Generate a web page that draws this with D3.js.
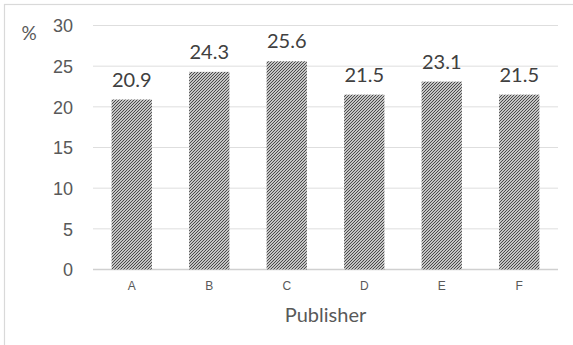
<!DOCTYPE html>
<html>
<head>
<meta charset="utf-8">
<script src="https://cdn.jsdelivr.net/npm/d3@7"></script>
<style>
  html, body { margin: 0; padding: 0; background: #fff; }
  svg { display: block; font-family: Lato, "Open Sans", sans-serif; }
</style>
</head>
<body>
<svg id="chart" width="573" height="345"></svg>
<script>
// Share of each publisher, in percent
const categories = ["A", "B", "C", "D", "E", "F"];
const values = [20.9, 24.3, 25.6, 21.5, 23.1, 21.5];
const yTicks = [0, 5, 10, 15, 20, 25, 30];
const xTitle = "Publisher";
const yUnit = "%";

(function draw() {
  const svg = d3.select("#chart");
  const W = 573, H = 345;
  const plotLeft = 93, plotRight = 558, plotTop = 25.5, plotBottom = 269.5;

  // Frame around the chart area
  svg.append("rect")
    .attr("x", 4.5).attr("y", 4.5)
    .attr("width", W + 10).attr("height", H + 10)
    .attr("fill", "#fff").attr("stroke", "#d9d9d9").attr("stroke-width", 1.2);

  // Diagonal hatch fill for the bars
  const defs = svg.append("defs");
  const pat = defs.append("pattern")
    .attr("id", "hatch")
    .attr("patternUnits", "userSpaceOnUse")
    .attr("width", 3).attr("height", 3);
  pat.append("rect").attr("width", 3).attr("height", 3).attr("fill", "#f6f6f6");
  pat.append("path")
    .attr("d", "M-1,1 l2,-2 M0,3 l3,-3 M2,4 l2,-2")
    .attr("stroke", "#404040").attr("stroke-width", 1.05);
  defs.append("filter").attr("id", "soft")
    .append("feGaussianBlur").attr("stdDeviation", 0.3);

  const x = d3.scaleBand().domain(categories).range([plotLeft, plotRight])
    .paddingInner(0.48).paddingOuter(0.24);
  const y = d3.scaleLinear().domain([0, 30]).range([plotBottom, plotTop]);

  // Horizontal gridlines
  svg.append("g").selectAll("line").data(yTicks).join("line")
    .attr("x1", plotLeft).attr("x2", plotRight)
    .attr("y1", d => y(d)).attr("y2", d => y(d))
    .attr("stroke", d => d === 0 ? "#d0d0d0" : "#dedede")
    .attr("stroke-width", d => d === 0 ? 1.3 : 1);

  // Y axis labels
  const yAxis = svg.append("g")
    .attr("transform", `translate(${plotLeft - 20},0)`)
    .call(d3.axisLeft(y).tickValues(yTicks).tickSize(0).tickPadding(0));
  yAxis.select(".domain").remove();
  yAxis.selectAll("text")
    .attr("fill", "#595959").attr("font-size", 18).attr("dy", "0.35em");

  svg.append("text").attr("x", 29).attr("y", 40)
    .attr("fill", "#595959").attr("font-size", 19).attr("text-anchor", "middle")
    .text(yUnit);

  // Bars
  svg.append("g").attr("filter", "url(#soft)").selectAll("rect").data(values).join("rect")
    .attr("x", (d, i) => x(categories[i]))
    .attr("width", x.bandwidth())
    .attr("y", d => y(d))
    .attr("height", d => y(0) - y(d))
    .attr("fill", "url(#hatch)");

  // Value labels above the bars
  svg.append("g").selectAll("text").data(values).join("text")
    .attr("x", (d, i) => x(categories[i]) + x.bandwidth() / 2)
    .attr("y", d => y(d) - 13)
    .attr("text-anchor", "middle")
    .attr("fill", "#404040").attr("font-size", 20)
    .text(d => d.toFixed(1));

  // X axis labels
  const xAxis = svg.append("g")
    .attr("transform", `translate(0,${plotBottom})`)
    .call(d3.axisBottom(x).tickSize(0).tickPadding(12));
  xAxis.select(".domain").remove();
  xAxis.selectAll("text").attr("fill", "#595959").attr("font-size", 12);

  // X axis title
  svg.append("text")
    .attr("x", (plotLeft + plotRight) / 2).attr("y", 322)
    .attr("text-anchor", "middle")
    .attr("fill", "#595959").attr("font-size", 20)
    .text(xTitle);
})();
</script>
</body>
</html>
